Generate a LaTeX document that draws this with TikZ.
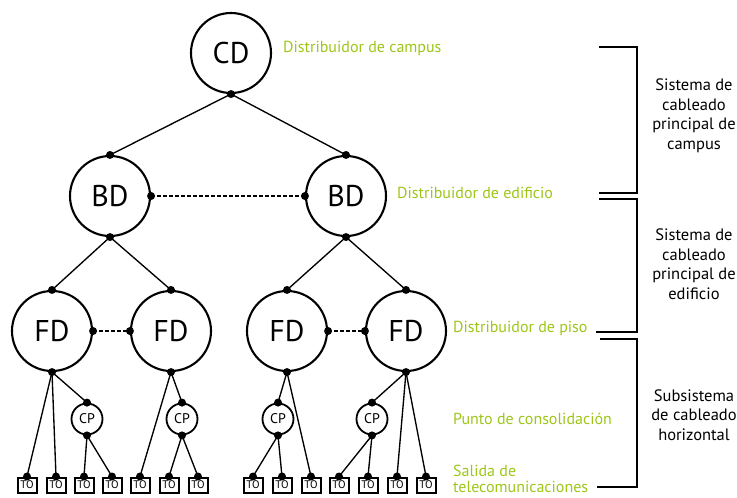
\documentclass[tikz,border=0pt]{standalone}
\usepackage{fontspec}
\setmainfont{PT Sans}
\definecolor{lg}{RGB}{158,198,25}
\begin{document}
\begin{tikzpicture}[x=1pt,y=-1pt,
  big/.style={circle, draw, line width=2.1pt, minimum size=80pt, inner sep=0pt, font=\fontsize{30}{30}\selectfont},
  cpn/.style={circle, draw, line width=1.8pt, minimum size=31pt, inner sep=0pt, font=\fontsize{14}{14}\selectfont},
  ton/.style={draw, line width=2pt, minimum width=19pt, minimum height=15pt, inner sep=0pt, font=\fontsize{11}{11}\selectfont},
  dotn/.style={circle, fill, inner sep=0pt, minimum size=8pt},
  wire/.style={line width=1.35pt},
  dashline/.style={line width=1.3pt, dash pattern=on 4pt off 2pt},
  lbl/.style={text=lg, anchor=west, inner sep=0pt, font=\fontsize{16}{16}\selectfont},
  side/.style={align=center, inner sep=0pt, font=\fontsize{16.5}{19.5}\selectfont},
  brk/.style={line width=1.8pt}]
\useasboundingbox (0,0) rectangle (737,498);
% main nodes
\node[big] (cd) at (231,53) {CD};
\node[big] (bdl) at (110,196) {BD};
\node[big] (bdr) at (346,196) {BD};
\node[big] (fd1) at (52,331) {FD};
\node[big] (fd2) at (171,331) {FD};
\node[big] (fd3) at (287,331) {FD};
\node[big] (fd4) at (406,331) {FD};
\node[cpn] (cp1) at (87,419) {CP};
\node[cpn] (cp2) at (182,419) {CP};
\node[cpn] (cp3) at (278,419) {CP};
\node[cpn] (cp4) at (372,419) {CP};
\foreach \i/\x in {1/27,2/56,3/84,4/112,5/140,6/169,7/198,8/253,9/282,10/311,11/339,12/368,13/397,14/426}
  \node[ton] (to\i) at (\x,485) {TO};
% connectors
\draw[wire] (cd.south) -- (bdl.north);
\draw[wire] (cd.south) -- (bdr.north);
\draw[dashline] (bdl.east) -- (bdr.west);
\draw[wire] (bdl.south) -- (fd1.north);
\draw[wire] (bdl.south) -- (fd2.north);
\draw[wire] (bdr.south) -- (fd3.north);
\draw[wire] (bdr.south) -- (fd4.north);
\draw[dashline] (fd1.east) -- (fd2.west);
\draw[dashline] (fd3.east) -- (fd4.west);
\draw[wire] (fd1.south) -- (to1.north);
\draw[wire] (fd1.south) -- (to2.north);
\draw[wire] (fd1.south) -- (cp1.north);
\draw[wire] (cp1.south) -- (to3.north);
\draw[wire] (cp1.south) -- (to4.north);
\draw[wire] (fd2.south) -- (to5.north);
\draw[wire] (fd2.south) -- (cp2.north);
\draw[wire] (cp2.south) -- (to6.north);
\draw[wire] (cp2.south) -- (to7.north);
\draw[wire] (fd3.south) -- (cp3.north);
\draw[wire] (fd3.south) -- (to10.north);
\draw[wire] (cp3.south) -- (to8.north);
\draw[wire] (cp3.south) -- (to9.north);
\draw[wire] (fd4.south) -- (cp4.north);
\draw[wire] (fd4.south) -- (to13.north);
\draw[wire] (fd4.south) -- (to14.north);
\draw[wire] (cp4.south) -- (to11.north);
\draw[wire] (cp4.south) -- (to12.north);
% dots
\foreach \n in {cd.south,bdl.north,bdl.south,bdl.east,bdr.north,bdr.south,bdr.west,
  fd1.north,fd1.south,fd1.east,fd2.north,fd2.south,fd2.west,
  fd3.north,fd3.south,fd3.east,fd4.north,fd4.south,fd4.west,
  cp1.north,cp1.south,cp2.north,cp2.south,cp3.north,cp3.south,cp4.north,cp4.south}
  \node[dotn] at (\n) {};
\foreach \i in {1,...,14} \node[dotn] at (to\i.north) {};
% green labels
\node[lbl] (l1) at (283,48) {Distribuidor de campus};
\node[lbl] (l2) at (397,193) {Distribuidor de edificio};
\node[lbl] (l3) at (453,328) {Distribuidor de piso};
\node[lbl] (l4) at (453,419) {Punto de consolidación};
\node[lbl, align=left] (l5) at (453,479) {Salida de\\telecomunicaciones};
% brackets
\coordinate (a1) at (599,47); \coordinate (a2) at (637,47);
\coordinate (a3) at (637,193); \coordinate (a4) at (599,193);
\draw[brk] (a1) -- (a2) -- (a3) -- (a4);
\coordinate (b1) at (599,199); \coordinate (b2) at (637,199);
\coordinate (b3) at (637,332); \coordinate (b4) at (596,332);
\draw[brk] (b1) -- (b2) -- (b3) -- (b4);
\coordinate (c1) at (600,339); \coordinate (c2) at (637,339);
\coordinate (c3) at (637,487); \coordinate (c4) at (597,487);
\draw[brk] (c1) -- (c2) -- (c3) -- (c4);
% side texts
\node[side] (s1) at (694,116) {Sistema de\\cableado\\principal de\\campus};
\node[side] (s2) at (694,264) {Sistema de\\cableado\\principal de\\edificio};
\node[side] (s3) at (694,415) {Subsistema\\de cableado\\horizontal};
\end{tikzpicture}
\end{document}
